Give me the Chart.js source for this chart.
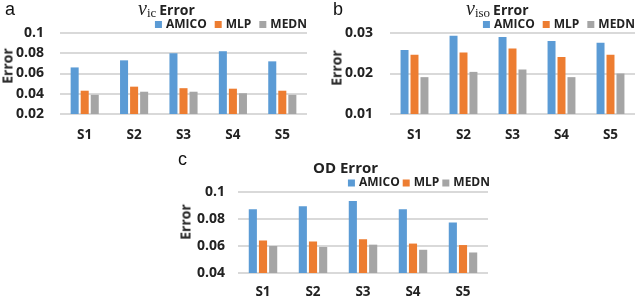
<!DOCTYPE html>
<html>
<head>
<meta charset="utf-8">
<script src="https://cdn.jsdelivr.net/npm/chart.js@4.4.0/dist/chart.umd.min.js"></script>
<style>
    body { margin: 0; background: #fff; }
    #wrap { position: relative; width: 640px; height: 297px; overflow: hidden; }
    canvas { position: absolute; }
    .letter { position: absolute; font: 18px 'Liberation Sans', sans-serif; color: #111; line-height: 18px; }
    .ttl { position: absolute; white-space: nowrap; color: #222; line-height: 20px; }
    .ttl b { font: bold 14px 'Open Sans', sans-serif; }
    .nu { font: italic 20px 'Liberation Serif', serif; }
    .sub { font: 13px 'Liberation Serif', serif; position: relative; top: 2px; margin-right: 3px; }
    .ytitle { position: absolute; font: bold 14px 'Open Sans', sans-serif; color: #222;
              transform: translate(-50%, -50%) rotate(-90deg); white-space: nowrap; }
</style>
</head>
<body>
<div id="wrap">
    <canvas id="chart-a" width="320" height="150" style="left:0;top:0"></canvas>
    <canvas id="chart-b" width="320" height="150" style="left:320px;top:0"></canvas>
    <canvas id="chart-c" width="350" height="147" style="left:150px;top:150px"></canvas>

    <div class="letter" style="left:5px;top:0px">a</div>
    <div class="letter" style="left:333px;top:0px">b</div>
    <div class="letter" style="left:178px;top:150px">c</div>

    <div class="ttl" style="left:138px;top:-3px"><span class="nu">ν</span><span class="sub">ic</span><b>Error</b></div>
    <div class="ttl" style="left:466px;top:-3px"><span class="nu">ν</span><span class="sub">iso</span><b>Error</b></div>
    <div class="ttl" style="left:313px;top:157px"><b style="font-size:15px">OD Error</b></div>

    <div class="ytitle" style="left:7px;top:66px">Error</div>
    <div class="ytitle" style="left:336px;top:68px">Error</div>
    <div class="ytitle" style="left:185px;top:222px">Error</div>
</div>

<script>
const categories = ['S1', 'S2', 'S3', 'S4', 'S5'];
const seriesNames = ['AMICO', 'MLP', 'MEDN'];
const seriesColors = ['#5b9bd5', '#ed7d31', '#a5a5a5'];

// panel a: v_ic error
const icAmico = [0.066, 0.073, 0.080, 0.082, 0.072];
const icMlp = [0.043, 0.047, 0.0455, 0.045, 0.043];
const icMedn = [0.039, 0.042, 0.042, 0.0405, 0.039];
const icTicks = [0.02, 0.1, 0.02];

// panel b: v_iso error
const isoAmico = [0.0258, 0.0293, 0.0290, 0.0280, 0.0276];
const isoMlp = [0.0246, 0.0252, 0.0262, 0.0241, 0.0246];
const isoMedn = [0.0191, 0.0204, 0.0210, 0.0191, 0.0200];
const isoTicks = [0.01, 0.03, 0.01];

// panel c: OD error
const odAmico = [0.0873, 0.0895, 0.0934, 0.0873, 0.0775];
const odMlp = [0.0640, 0.0633, 0.0650, 0.0618, 0.0607];
const odMedn = [0.0600, 0.0593, 0.0610, 0.0572, 0.0552];
const odTicks = [0.04, 0.1, 0.02];

Chart.defaults.font.family = "'Open Sans', sans-serif";
Chart.defaults.font.weight = 'bold';
Chart.defaults.font.size = 13.5;
Chart.defaults.color = '#222';

// right-aligned legend row drawn from the datasets, placed just above the plot
const rowLegend = {
    id: 'rowLegend',
    afterDraw(chart, args, opts) {
        const ctx = chart.ctx;
        ctx.save();
        ctx.font = "bold 12px 'Open Sans', sans-serif";
        ctx.textBaseline = 'middle';
        let x = opts.right;
        chart.data.datasets.slice().reverse().forEach(ds => {
            x -= ctx.measureText(ds.label).width;
            ctx.fillStyle = '#222';
            ctx.fillText(ds.label, x, opts.y);
            x -= opts.gap + opts.box;
            ctx.fillStyle = ds.backgroundColor;
            ctx.fillRect(x, opts.y - opts.box / 2, opts.box, opts.box);
            x -= opts.spacing;
        });
        ctx.restore();
    }
};

function makeChart(id, values, ticks, lay) {
    const datasets = values.map((v, i) => ({
        label: seriesNames[i],
        data: v,
        backgroundColor: seriesColors[i],
        categoryPercentage: 0.61,
        barPercentage: 0.8
    }));

    return new Chart(document.getElementById(id), {
        type: 'bar',
        data: { labels: categories, datasets: datasets },
        plugins: [rowLegend],
        options: {
            responsive: false,
            animation: false,
            layout: { padding: { top: lay.top, left: 0, right: lay.right, bottom: 0 } },
            plugins: {
                legend: { display: false },
                tooltip: { enabled: false },
                rowLegend: { right: lay.legRight, y: lay.legY, box: 7, gap: 4, spacing: lay.legSpace }
            },
            scales: {
                x: {
                    grid: { display: false, drawTicks: false },
                    border: { display: false },
                    ticks: { padding: lay.xPad },
                    afterFit: s => { s.height = lay.xHeight; }
                },
                y: {
                    min: ticks[0],
                    max: ticks[1],
                    grid: { color: '#d9d9d9', lineWidth: 2, drawTicks: false },
                    border: { display: false },
                    ticks: {
                        stepSize: ticks[2],
                        padding: lay.yPad,
                        font: { size: 14 },
                        callback: v => String(Number(v.toFixed(4)))
                    },
                    afterFit: s => { s.width = lay.yWidth; }
                }
            }
        }
    });
}

makeChart('chart-a', [icAmico, icMlp, icMedn], icTicks,
    { top: 33, right: 13, legRight: 307, legY: 24.5, legSpace: 8,
      yWidth: 60, yPad: 16, xPad: 13, xHeight: 36 });
makeChart('chart-b', [isoAmico, isoMlp, isoMedn], isoTicks,
    { top: 33, right: 5, legRight: 315, legY: 24.5, legSpace: 8,
      yWidth: 70, yPad: 17, xPad: 13, xHeight: 36 });
makeChart('chart-c', [odAmico, odMlp, odMedn], odTicks,
    { top: 42, right: 12, legRight: 340, legY: 33, legSpace: 3,
      yWidth: 88, yPad: 13, xPad: 11, xHeight: 24 });
</script>
</body>
</html>
